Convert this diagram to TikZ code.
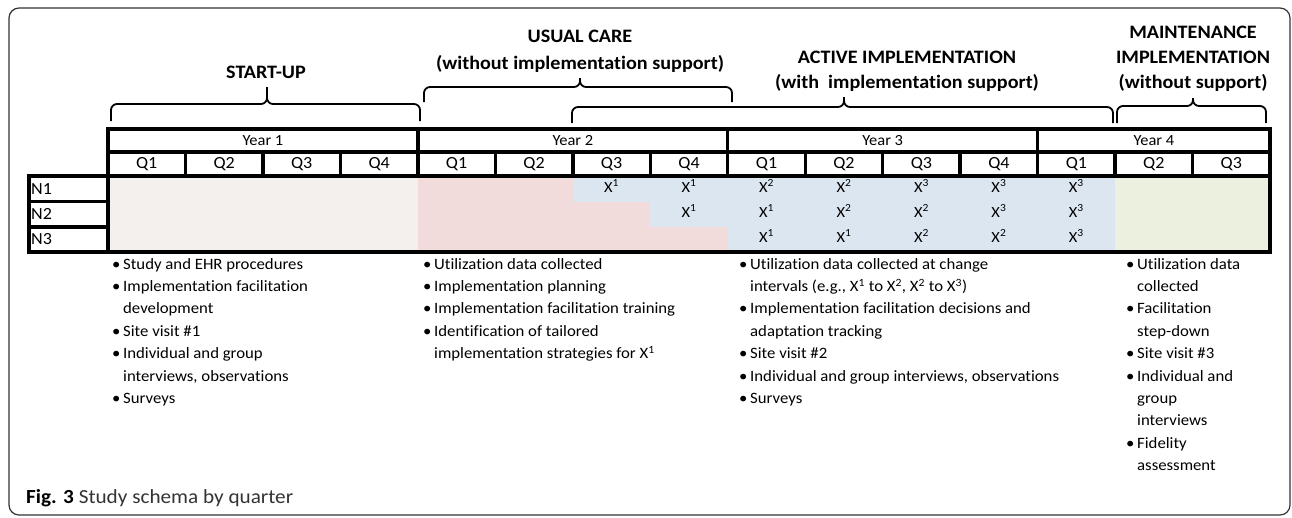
\documentclass[tikz,border=0pt]{standalone}
\usepackage{fontspec}
\setmainfont{Carlito}[FakeStretch=1.06, Ligatures=NoCommon]
\usepackage{xcolor}
\usepackage{tikz}
\usetikzlibrary{positioning}

\definecolor{startfill}{RGB}{243,240,237}
\definecolor{usualfill}{RGB}{242,220,219}
\definecolor{activefill}{RGB}{220,230,241}
\definecolor{maintfill}{RGB}{235,241,222}

\newcommand{\bitem}{\makebox[11pt][l]{\textbullet}}
\newcommand{\bcont}{\hspace*{11pt}}

\begin{document}
\begin{tikzpicture}[
    x=1pt, y=-1pt,
    phase/.style={align=center, inner sep=0pt, font=\fontsize{19}{25}\selectfont\bfseries},
    cell/.style={inner sep=0pt, font=\fontsize{17}{18}\selectfont},
    yearcell/.style={inner sep=0pt, font=\fontsize{15.5}{18}\selectfont},
    xcell/.style={inner sep=0pt, font=\fontsize{15.5}{18}\selectfont},
    notes/.style={align=left, anchor=north west, inner sep=0pt, font=\fontsize{15.8}{22.4}\selectfont},
    rule/.style={line width=3.4pt},
    curly/.style={line width=1.8pt, rounded corners=6pt}
]
\useasboundingbox (0,0) rectangle (1292,517);

% Outer frame
\draw[line width=1.2pt, rounded corners=10pt, black!80] (9,8) rectangle (1290,515);

% Shaded phases in the site rows (quarter width 77.47)
\fill[startfill] (108,176) rectangle (417.88,252);
\fill[usualfill] (417.88,176) rectangle (572.82,252);
\fill[usualfill] (572.82,201.5) rectangle (650.29,252);
\fill[usualfill] (650.29,227) rectangle (727.76,252);
\fill[activefill] (572.82,176) rectangle (650.29,201.5);
\fill[activefill] (650.29,176) rectangle (727.76,227);
\fill[activefill] (727.76,176) rectangle (1115.11,252);
\fill[maintfill] (1115.11,176) rectangle (1270,252);

% Header grid: years and quarters
\draw[rule] (108,129) rectangle (1270,176);
\draw[rule] (108,152) -- (1270,152);
\foreach \i in {1,...,14}
    \draw[rule] ({108+\i*77.47},152) -- ({108+\i*77.47},176);
\foreach \i in {4,8,12}
    \draw[rule] ({108+\i*77.47},129) -- ({108+\i*77.47},152);

% Site rows
\draw[rule] (29,176) rectangle (1270,252);
\draw[rule] (108,176) -- (108,252);
\draw[rule] (29,201.5) -- (108,201.5) (29,227) -- (108,227);

% Year and quarter labels
\foreach \n/\a/\b in {1/0/4, 2/4/8, 3/8/12, 4/12/15}
    \node[yearcell] (year\n) at ({108+(\a+\b)/2*77.47},140.5) {Year \n};
\foreach \i/\lab in {0/Q1,1/Q2,2/Q3,3/Q4,4/Q1,5/Q2,6/Q3,7/Q4,8/Q1,9/Q2,10/Q3,11/Q4,12/Q1,13/Q2,14/Q3}
    \node[cell] (q\i) at ({108+(\i+0.5)*77.47},164) {\lab};

% Site labels
\foreach \n/\y in {1/189, 2/214, 3/239.5}
    \node[cell, anchor=west] (n\n) at (31,\y) {N\n};

% Implementation strategy per site and quarter
\foreach \i/\r/\e in {6/1/1, 7/1/1, 8/1/2, 9/1/2, 10/1/3, 11/1/3, 12/1/3,
                      7/2/1, 8/2/1, 9/2/2, 10/2/2, 11/2/3, 12/2/3,
                      8/3/1, 9/3/1, 10/3/2, 11/3/2, 12/3/3}
    \node[xcell] (x\r-\i) at ({108+(\i+0.5)*77.47},{161+25*\r}) {X\textsuperscript{\e}};

% Phase braces
\draw[curly] (111,121) -- (111,104) -- (267,104) -- (267,87);
\draw[curly] (420,121) -- (420,104) -- (267,104) -- (267,87);
\draw[curly] (424,102) -- (424,87) -- (580,87) -- (580,78);
\draw[curly] (732,102) -- (732,87) -- (580,87) -- (580,78);
\draw[curly] (572,123) -- (572,107) -- (844,107) -- (844,97);
\draw[curly] (1113,123) -- (1113,107) -- (844,107) -- (844,97);
\draw[curly] (1117,123) -- (1117,106) -- (1193,106) -- (1193,98);
\draw[curly] (1266,123) -- (1266,106) -- (1193,106) -- (1193,98);

% Phase headings
\node[phase] (startup) at (266,72) {START-UP};
\node[phase, anchor=north, font=\fontsize{19}{27}\selectfont\bfseries] (usual) at (580,30) {USUAL CARE\\(without implementation support)};
\node[phase, anchor=north] (active) at (907,51) {ACTIVE IMPLEMENTATION\\(with\ \ implementation support)};
\node[phase, anchor=north] (maint) at (1193,26) {MAINTENANCE\\IMPLEMENTATION\\(without support)};

% Activities in each phase
\node[notes] (notesstart) at (112,258) {\bitem Study and EHR procedures\\
    \bitem Implementation facilitation\\ \bcont development\\
    \bitem Site visit \#1\\
    \bitem Individual and group\\ \bcont interviews, observations\\
    \bitem Surveys};
\node[notes] (notesusual) at (423,258) {\bitem Utilization data collected\\
    \bitem Implementation planning\\
    \bitem Implementation facilitation training\\
    \bitem Identification of tailored\\ \bcont implementation strategies for X\textsuperscript{1}};
\node[notes] (notesactive) at (739,258) {\bitem Utilization data collected at change\\
    \bcont intervals (e.g., X\textsuperscript{1} to X\textsuperscript{2}, X\textsuperscript{2} to X\textsuperscript{3})\\
    \bitem Implementation facilitation decisions and\\ \bcont adaptation tracking\\
    \bitem Site visit \#2\\
    \bitem Individual and group interviews, observations\\
    \bitem Surveys};
\node[notes] (notesmaint) at (1126,258) {\bitem Utilization data\\ \bcont collected\\
    \bitem Facilitation\\ \bcont step-down\\
    \bitem Site visit \#3\\
    \bitem Individual and\\ \bcont group\\ \bcont interviews\\
    \bitem Fidelity\\ \bcont assessment};

% Caption
\node[anchor=west, inner sep=0pt, font=\fontsize{20}{22}\selectfont] (caption) at (26,498) {\textbf{Fig. 3} \textcolor{black!80}{Study schema by quarter}};

\end{tikzpicture}
\end{document}
